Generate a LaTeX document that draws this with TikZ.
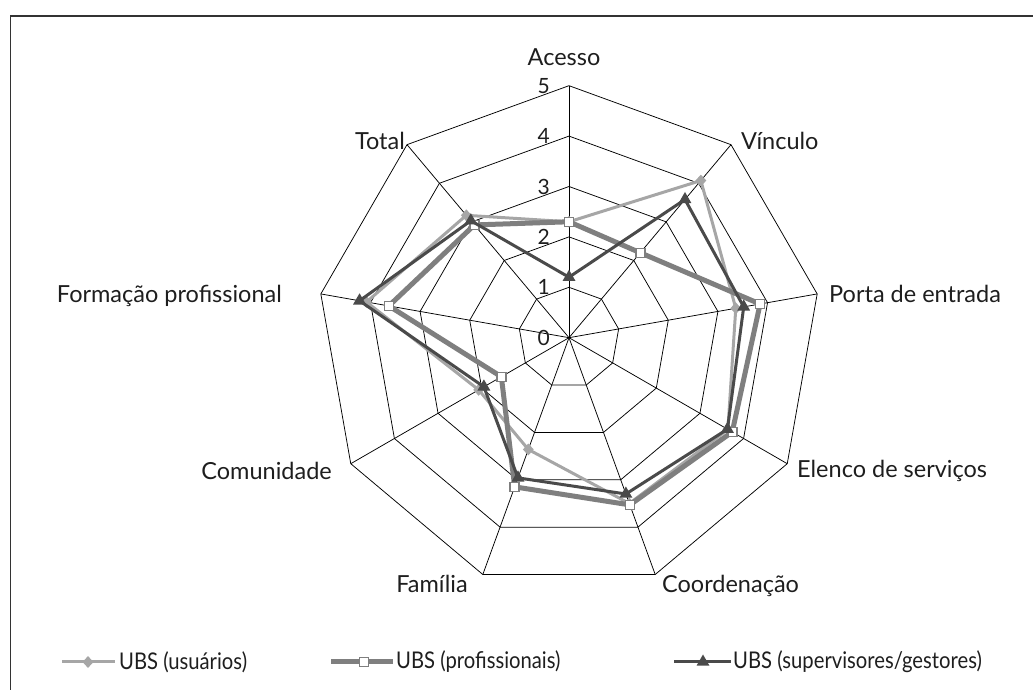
\documentclass[tikz,border=0pt]{standalone}
\usepackage{fontspec}
\setmainfont{Lato}
\newfontfamily\legfont[FakeStretch=0.88]{Lato}
\usetikzlibrary{shapes.geometric}
\definecolor{cU}{HTML}{A6A6A6}
\definecolor{cP}{HTML}{7F7F7F}
\definecolor{cS}{HTML}{4A4A4A}
\definecolor{txt}{HTML}{1E1E1E}
\begin{document}
\begin{tikzpicture}[x=1pt,y=1pt,
  gridline/.style={black, line width=0.75pt, line join=miter},
  lbl/.style={font=\fontsize{23.5}{23.5}\selectfont, text=txt, inner sep=0pt},
  num/.style={font=\fontsize{21}{21}\selectfont, text=txt, anchor=east, inner sep=0pt},
  leg/.style={font=\legfont\fontsize{23}{23}\selectfont, text=txt, anchor=west, inner sep=0pt},
  useline/.style={cU, line width=3pt, line join=round},
  proline/.style={cP, line width=5pt, line join=round},
  supline/.style={cS, line width=3pt, line join=round},
  umark/.style={diamond, fill=cU, minimum width=11pt, minimum height=12pt, inner sep=0pt},
  pmark/.style={rectangle, draw=cP, fill=white, line width=1.5pt, minimum size=9pt, inner sep=0pt},
  smark/.style={regular polygon, regular polygon sides=3, fill=cS, minimum size=15pt, inner sep=0pt},
  frame/.style={line width=1.3pt, black!80}
]
\useasboundingbox (0,0) rectangle (1033,690);
\coordinate (fb) at (10.5,0);
\coordinate (ftl) at (10.5,674);
\coordinate (ftr) at (1033,674);
\draw[frame] (fb) -- (ftl) -- (ftr);

\begin{scope}[shift={(569,352.3)}]
  \def\u{50.4}
  % grid
  \coordinate (O) at (0,0);
  \foreach \r in {1,...,5}{
    \foreach \k in {0,...,8}{
      \coordinate (g\r-\k) at ({90-40*\k}:{\r*\u});
    }
    \draw[gridline] (g\r-0) \foreach \k in {1,...,8}{ -- (g\r-\k)} -- cycle;
  }
  \foreach \k in {0,...,8}{ \draw[gridline] (O) -- (g5-\k); }
  % scale numbers
  \foreach \r in {0,...,5}{
    \node[num] (n\r) at (-19,{\r*\u}) {\r};
  }
  % usuarios
  \foreach \v [count=\i from 0] in {2.3,4.07,3.36,3.64,3.5,2.36,2.07,4.08,3.17}{
    \coordinate (u\i) at ({90-40*\i}:{\v*\u});
  }
  \draw[useline] (u0) \foreach \i in {1,...,8}{ -- (u\i)} -- cycle;
  \foreach \i in {0,...,8}{ \node[umark] (um\i) at (u\i) {}; }
  % profissionais
  \foreach \v [count=\i from 0] in {2.3,2.2,3.85,3.74,3.53,3.15,1.55,3.63,2.92}{
    \coordinate (p\i) at ({90-40*\i}:{\v*\u});
  }
  \draw[proline] (p0) \foreach \i in {1,...,8}{ -- (p\i)} -- cycle;
  \foreach \i in {0,...,8}{ \node[pmark] (pm\i) at (p\i) {}; }
  % supervisores
  \foreach \v [count=\i from 0] in {1.2,3.58,3.52,3.63,3.3,2.96,1.95,4.22,3.03}{
    \coordinate (s\i) at ({90-40*\i}:{\v*\u});
  }
  \draw[supline] (s0) \foreach \i in {1,...,8}{ -- (s\i)} -- cycle;
  \foreach \i in {0,...,8}{ \node[smark] (sm\i) at (s\i) {}; }
\end{scope}

% axis labels
\node[lbl, anchor=base] (lA) at (564,624) {Acesso};
\node[lbl, anchor=base west] (lV) at (741,540) {Vínculo};
\node[lbl, anchor=base west] (lP) at (829,387) {Porta de entrada};
\node[lbl, anchor=base west] (lE) at (797,212) {Elenco de serviços};
\node[lbl, anchor=base west] (lC) at (662,97) {Coordenação};
\node[lbl, anchor=base east] (lF) at (468,97) {Família};
\node[lbl, anchor=base east] (lCo) at (332,210) {Comunidade};
\node[lbl, anchor=base east] (lFo) at (282,387) {Formação profissional};
\node[lbl, anchor=base east] (lT) at (405,540) {Total};

% legend
\coordinate (a1) at (62,28); \coordinate (b1) at (115,28);
\coordinate (a2) at (331,28); \coordinate (b2) at (393,28);
\coordinate (a3) at (674,28); \coordinate (b3) at (731,28);
\draw[useline] (a1) -- (b1);
\node[umark] (lm1) at (88,28) {};
\draw[proline] (a2) -- (b2);
\node[pmark] (lm2) at (364,28) {};
\draw[supline] (a3) -- (b3);
\node[smark] (lm3) at (703,28) {};
\node[leg] (t1) at (119,28) {UBS (usuários)};
\node[leg] (t2) at (396,28) {UBS (profissionais)};
\node[leg] (t3) at (733,28) {UBS (supervisores/gestores)};
\end{tikzpicture}
\end{document}
